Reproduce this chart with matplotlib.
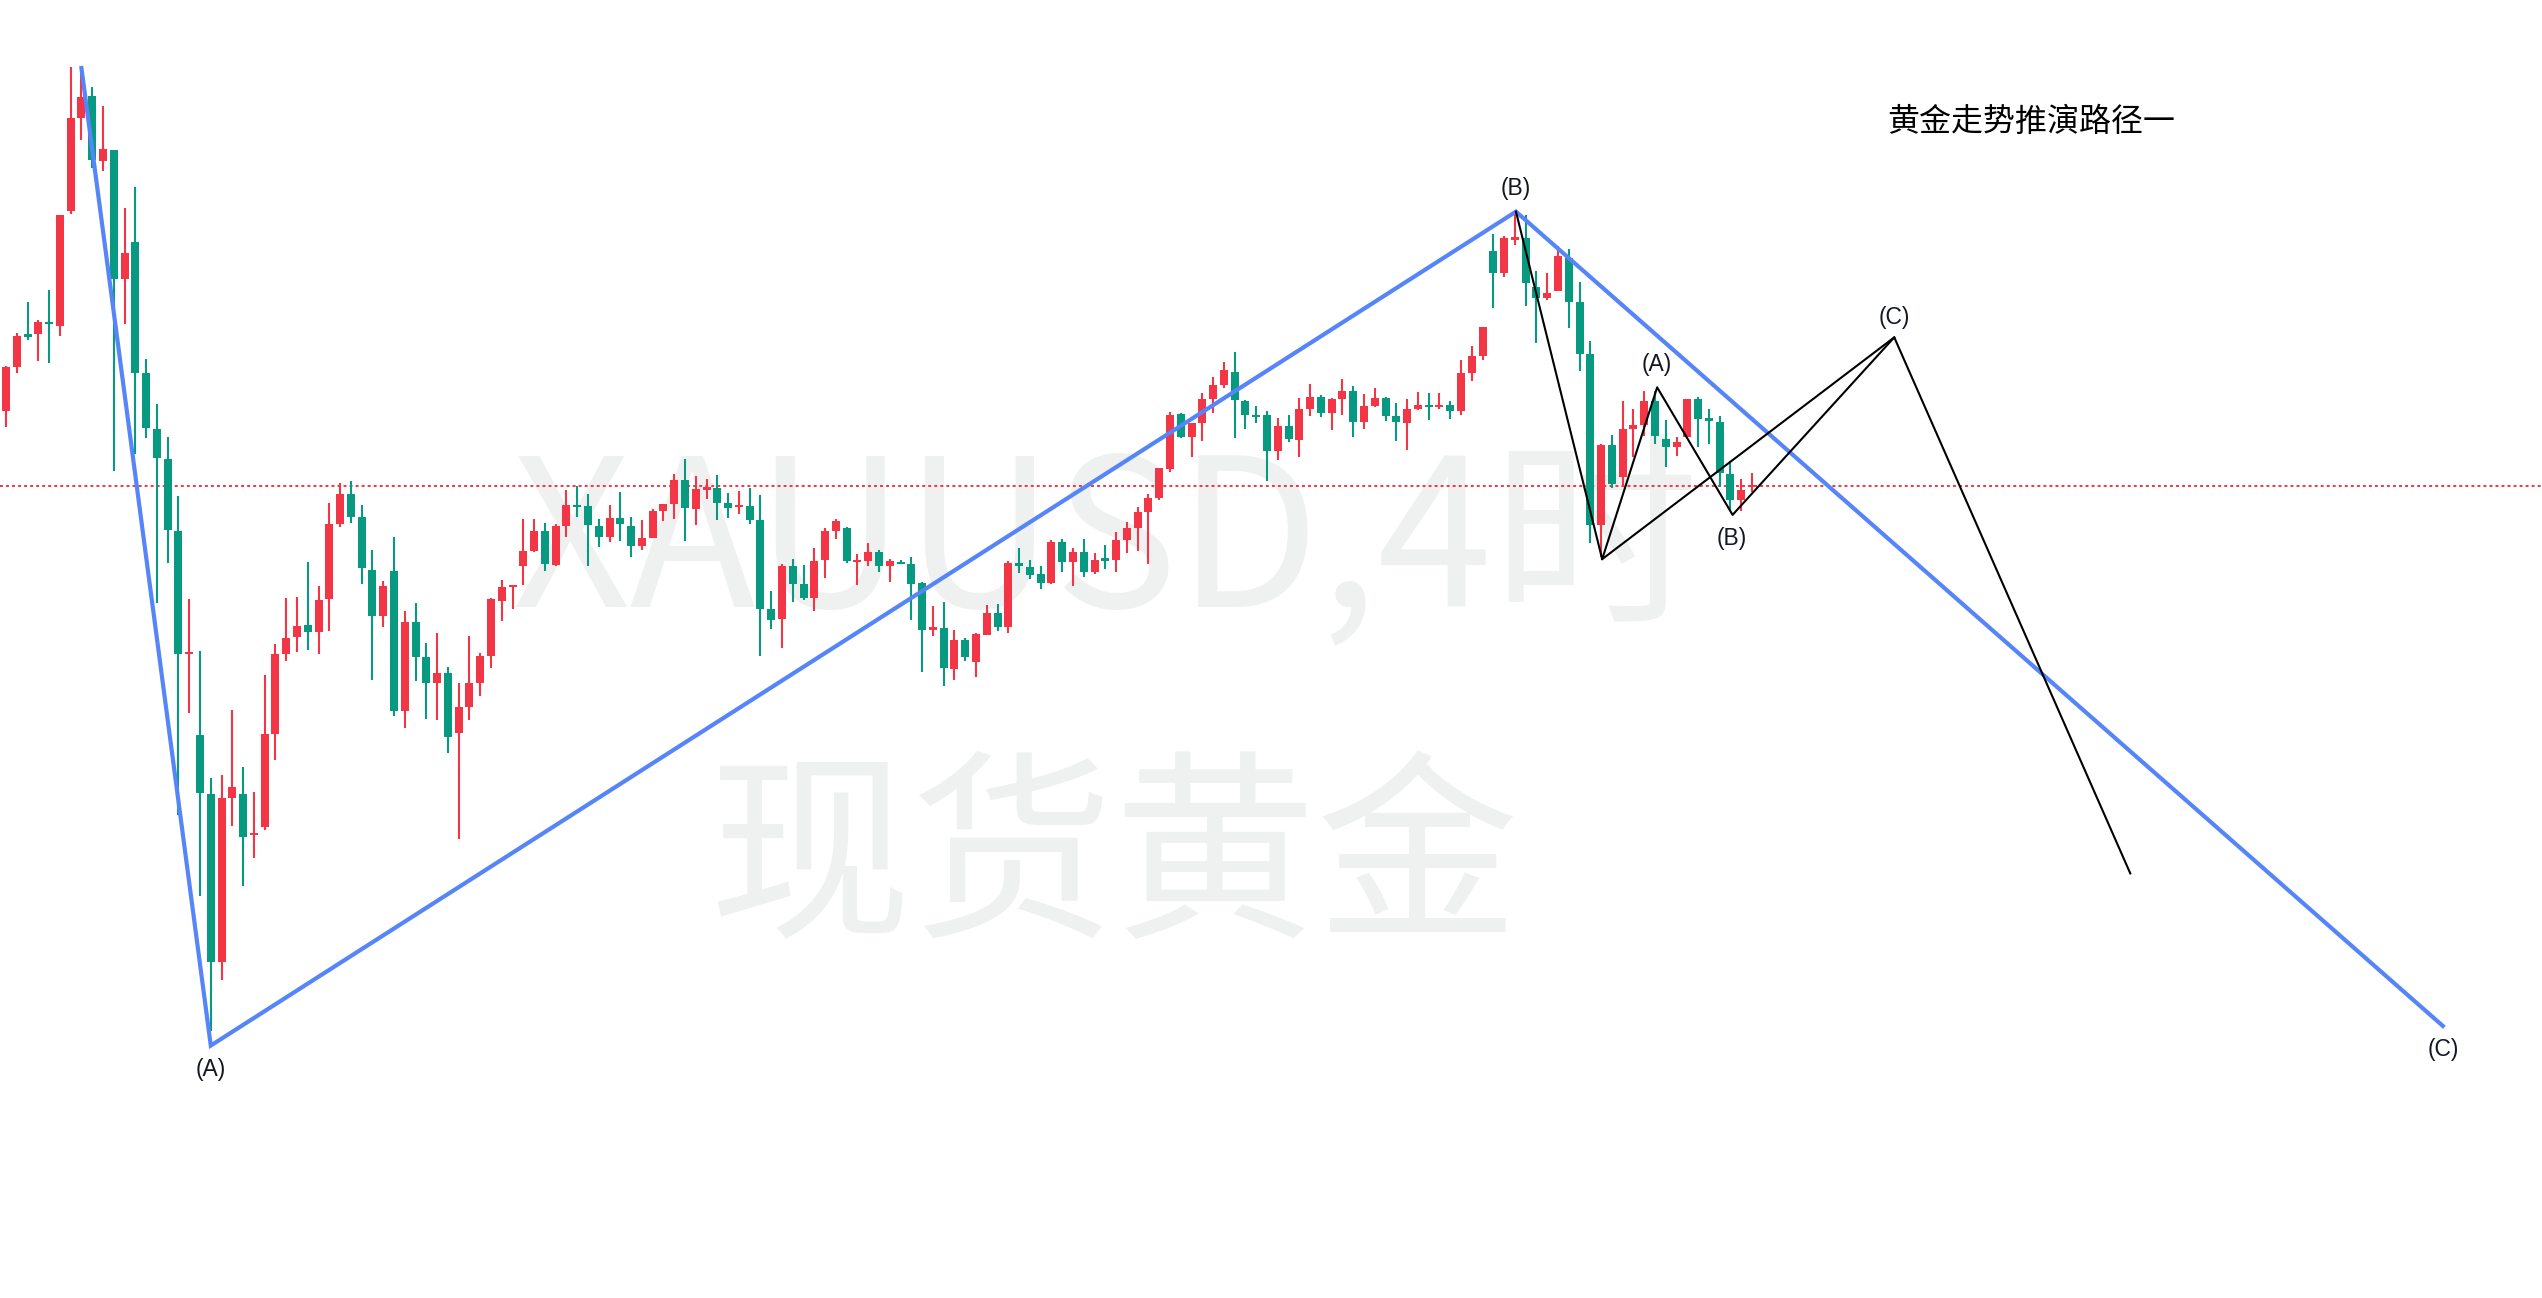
import numpy as np
import matplotlib
matplotlib.use("Agg")
import matplotlib.pyplot as plt

plt.rcParams['font.family'] = ['Noto Sans CJK SC', 'DejaVu Sans']

# ---------------- data (XAUUSD 4H, prices) ----------------
opens = [2693.6, 2705.9, 2715.2, 2715.2, 2718.5, 2717.6, 2749.7, 2775.7, 2781.9, 2763.7,
         2766.8, 2730.6, 2741.0, 2704.3, 2688.6, 2680.2, 2660.1, 2625.6, 2603.0, 2586.4,
         2539.4, 2585.3, 2586.4, 2575.0, 2577.3, 2603.2, 2625.6, 2630.5, 2633.8, 2631.9,
         2641.1, 2662.0, 2670.4, 2664.0, 2649.2, 2636.4, 2648.9, 2609.8, 2634.7, 2624.9,
         2617.6, 2620.3, 2603.6, 2610.9, 2617.5, 2625.1, 2640.6, 2644.5, 2650.4, 2654.5,
         2660.1, 2650.6, 2661.5, 2667.4, 2667.1, 2661.5, 2658.5, 2663.7, 2661.5, 2656.0,
         2658.2, 2665.7, 2667.7, 2674.4, 2666.3, 2671.7, 2672.1, 2667.9, 2666.7, 2667.1,
         2663.2, 2638.2, 2635.5, 2650.4, 2645.3, 2641.4, 2652.0, 2660.2, 2660.9, 2651.3,
         2651.8, 2654.2, 2650.4, 2651.5, 2650.8, 2645.5, 2632.5, 2632.9, 2621.5, 2629.6,
         2623.5, 2631.0, 2637.1, 2633.3, 2650.8, 2650.0, 2648.0, 2645.6, 2657.0, 2651.5,
         2654.2, 2648.7, 2652.2, 2652.0, 2657.6, 2661.0, 2665.5, 2669.4, 2677.4, 2692.8,
         2686.4, 2690.3, 2697.0, 2701.0, 2704.6, 2696.5, 2692.4, 2692.6, 2682.5, 2689.5,
         2685.6, 2694.2, 2697.6, 2693.1, 2697.0, 2699.3, 2690.6, 2695.1, 2697.3, 2692.3,
         2690.3, 2694.2, 2695.2, 2694.8, 2695.4, 2693.7, 2704.3, 2709.1, 2738.5, 2732.4,
         2741.7, 2742.1, 2728.4, 2725.3, 2727.4, 2736.5, 2724.2, 2709.7, 2661.8, 2684.2,
         2675.3, 2688.6, 2689.8, 2696.5, 2685.8, 2683.7, 2686.5, 2697.0, 2691.4, 2690.6,
         2676.0, 2668.8, 2672.5]
highs = [2706.4, 2715.4, 2724.3, 2719.1, 2727.6, 2748.6, 2790.0, 2789.7, 2784.4, 2779.2,
         2766.8, 2750.5, 2756.4, 2708.2, 2695.6, 2686.4, 2669.9, 2641.0, 2626.5, 2590.9,
         2591.8, 2610.0, 2594.0, 2587.0, 2619.8, 2628.4, 2641.3, 2641.6, 2651.4, 2644.7,
         2667.9, 2673.5, 2674.1, 2667.4, 2654.8, 2646.1, 2658.4, 2637.7, 2640.0, 2628.7,
         2631.5, 2622.0, 2617.5, 2630.7, 2625.9, 2641.3, 2646.4, 2645.0, 2663.4, 2663.4,
         2662.3, 2662.0, 2671.6, 2672.7, 2670.4, 2663.4, 2667.4, 2671.0, 2664.0, 2663.2,
         2666.2, 2667.6, 2676.0, 2680.2, 2675.5, 2674.6, 2675.8, 2670.7, 2671.3, 2672.1,
         2670.2, 2643.3, 2650.8, 2652.2, 2650.6, 2655.3, 2660.9, 2663.4, 2661.2, 2653.6,
         2656.7, 2654.8, 2652.2, 2652.0, 2652.8, 2645.8, 2639.1, 2640.2, 2632.4, 2630.1,
         2631.5, 2639.4, 2639.6, 2651.7, 2655.3, 2652.0, 2650.3, 2657.6, 2657.8, 2655.3,
         2657.8, 2653.9, 2656.2, 2659.8, 2662.6, 2666.8, 2670.4, 2677.7, 2693.4, 2693.1,
         2690.3, 2698.7, 2703.2, 2707.4, 2710.2, 2696.8, 2695.1, 2693.7, 2691.7, 2692.6,
         2697.3, 2701.2, 2698.2, 2697.3, 2702.6, 2700.7, 2698.4, 2700.1, 2697.6, 2695.9,
         2697.0, 2699.0, 2698.7, 2698.7, 2696.5, 2708.0, 2711.9, 2717.2, 2743.2, 2742.7,
         2749.4, 2748.6, 2732.9, 2732.3, 2739.9, 2739.0, 2729.8, 2713.3, 2684.4, 2687.0,
         2696.5, 2694.2, 2699.3, 2699.3, 2691.2, 2686.5, 2697.0, 2697.6, 2694.2, 2692.3,
         2679.8, 2674.6, 2676.3]
lows = [2689.1, 2704.4, 2713.5, 2707.7, 2707.0, 2714.8, 2748.8, 2769.6, 2761.8, 2761.0,
        2676.9, 2718.0, 2681.6, 2686.1, 2639.8, 2651.2, 2580.6, 2609.2, 2557.9, 2520.0,
        2534.5, 2577.5, 2560.7, 2568.5, 2576.5, 2596.0, 2623.8, 2626.2, 2626.8, 2625.7,
        2632.2, 2661.3, 2662.4, 2645.3, 2618.4, 2633.3, 2608.4, 2605.0, 2618.2, 2607.5,
        2607.2, 2598.0, 2573.9, 2607.2, 2614.0, 2621.8, 2635.0, 2638.3, 2645.0, 2654.2,
        2649.0, 2650.4, 2658.5, 2664.1, 2650.4, 2655.7, 2657.1, 2657.4, 2652.9, 2654.8,
        2658.0, 2663.0, 2663.5, 2657.4, 2661.8, 2669.1, 2663.2, 2663.8, 2664.9, 2662.1,
        2625.2, 2632.7, 2627.4, 2640.3, 2640.8, 2637.8, 2647.0, 2657.9, 2651.2, 2645.0,
        2650.4, 2648.7, 2645.9, 2650.9, 2635.2, 2620.7, 2630.8, 2616.8, 2618.4, 2623.8,
        2619.3, 2631.0, 2632.2, 2631.6, 2648.4, 2646.7, 2643.9, 2645.3, 2648.7, 2644.8,
        2647.3, 2648.1, 2649.5, 2648.7, 2654.0, 2654.6, 2650.9, 2668.8, 2676.6, 2686.1,
        2680.8, 2685.3, 2693.1, 2700.1, 2686.1, 2688.6, 2690.3, 2674.1, 2680.0, 2685.0,
        2680.8, 2692.3, 2692.0, 2688.4, 2692.6, 2686.4, 2688.6, 2694.8, 2690.9, 2685.3,
        2682.8, 2694.0, 2691.2, 2694.2, 2691.4, 2692.6, 2702.1, 2708.0, 2722.6, 2731.3,
        2740.2, 2723.2, 2712.8, 2724.8, 2727.4, 2717.0, 2705.0, 2656.8, 2652.9, 2672.2,
        2672.5, 2680.9, 2686.8, 2684.5, 2678.1, 2681.2, 2686.5, 2683.7, 2684.5, 2672.5,
        2666.0, 2665.8, 2671.1]
closes = [2705.9, 2714.8, 2714.5, 2718.6, 2718.0, 2748.6, 2775.7, 2781.6, 2764.0, 2767.0,
          2730.6, 2737.9, 2704.3, 2688.9, 2680.4, 2660.5, 2625.6, 2626.2, 2586.7, 2539.4,
          2585.3, 2588.4, 2574.4, 2575.5, 2603.2, 2625.6, 2630.1, 2633.6, 2631.9, 2640.8,
          2662.0, 2670.4, 2664.1, 2649.8, 2636.4, 2644.7, 2609.8, 2634.7, 2624.9, 2617.6,
          2620.3, 2602.5, 2610.9, 2617.5, 2625.1, 2641.0, 2644.4, 2644.9, 2654.5, 2660.1,
          2650.9, 2661.5, 2667.4, 2666.9, 2661.8, 2658.5, 2663.7, 2662.1, 2656.0, 2658.1,
          2665.7, 2667.6, 2674.4, 2666.6, 2671.8, 2672.1, 2668.0, 2666.6, 2667.1, 2663.2,
          2638.3, 2635.2, 2650.4, 2645.3, 2641.2, 2651.7, 2660.1, 2662.9, 2651.8, 2651.7,
          2654.2, 2650.4, 2651.7, 2650.9, 2645.3, 2632.4, 2632.9, 2621.8, 2629.6, 2624.9,
          2631.2, 2637.1, 2633.3, 2651.2, 2650.4, 2647.8, 2645.6, 2657.0, 2651.5, 2654.2,
          2648.7, 2652.0, 2651.8, 2657.6, 2660.9, 2665.4, 2669.3, 2677.7, 2692.6, 2686.4,
          2690.3, 2697.0, 2701.0, 2705.2, 2696.8, 2692.6, 2692.1, 2682.5, 2689.5, 2685.8,
          2694.2, 2697.6, 2693.1, 2697.0, 2699.3, 2690.6, 2695.1, 2697.3, 2692.3, 2690.6,
          2694.2, 2695.4, 2694.9, 2695.4, 2693.7, 2704.3, 2709.1, 2717.2, 2732.4, 2742.1,
          2742.1, 2729.6, 2725.3, 2726.7, 2737.1, 2724.3, 2709.7, 2661.8, 2684.2, 2673.2,
          2688.6, 2689.8, 2696.5, 2686.8, 2683.7, 2685.1, 2697.0, 2691.5, 2691.0, 2676.4,
          2668.8, 2671.6, 2673.0]

last_price = 2672.8

# Elliott-wave drawing points (bar index, price)
big_wave_x = [7.0, 19.0, 140.1, 226.1]
big_wave_y = [2789.7, 2516.0, 2749.5, 2521.5]
big_labels = ["(A)", "(B)", "(C)"]
big_label_x = [19.0, 140.1, 226.1]
big_label_y = [2509.2, 2756.1, 2515.0]

small_wave_x = [140.1, 148.1, 153.2, 160.2, 175.2, 197.1]
small_wave_y = [2749.5, 2652.2, 2700.3, 2664.6, 2714.3, 2564.2]
alt_wave_x = [148.1, 175.2]
alt_wave_y = [2652.2, 2714.3]
small_labels = ["(A)", "(B)", "(C)"]
small_label_x = [153.2, 160.1, 175.2]
small_label_y = [2706.6, 2658.0, 2719.9]

title_text = "黄金走势推演路径一"
watermark_1 = "XAUUSD,4时"
watermark_2 = "现货黄金"

# ---------------- figure ----------------
UP = "#F23645"
DOWN = "#089981"
BLUE = "#5585F8"

fig = plt.figure(figsize=(25.42, 12.98), dpi=100)
ax = fig.add_axes([0, 0, 1, 1])
ax.set_xlim(-0.557, 235.3)
ax.set_ylim(2445.32, 2808.76)
ax.axis("off")

# watermarks
ax.text(0.435, 0.532, watermark_1, transform=ax.transAxes, ha="center", va="baseline",
        fontsize=149, color="#eff0f0", zorder=0,
        family=["Noto Sans CJK SC", "DejaVu Sans"])
ax.text(0.438, 0.334, watermark_2, transform=ax.transAxes, ha="center", va="center",
        fontsize=146, color="#eff0f0", zorder=0,
        family=["Noto Sans CJK SC", "DejaVu Sans"])

o = np.array(opens); h = np.array(highs); l = np.array(lows); c = np.array(closes)
x = np.arange(len(o))
colors = np.where(c >= o, UP, DOWN)

ax.vlines(x, l, h, colors=colors, linewidth=1.5, zorder=2)
bottom = np.minimum(o, c)
height = np.maximum(np.abs(c - o), 0.6)
ax.bar(x, height, bottom=bottom, width=0.74, color=colors, linewidth=0, zorder=3)

# last price line
ax.axhline(last_price, color=UP, linewidth=1.4, linestyle=(0, (1.5, 1.6)), zorder=1)

# big wave (blue)
ax.plot(big_wave_x, big_wave_y, color=BLUE, linewidth=3.0, solid_joinstyle="miter",
        zorder=5)
# small wave (black)
ax.plot(small_wave_x, small_wave_y, color="black", linewidth=1.5, zorder=6)
ax.plot(alt_wave_x, alt_wave_y, color="black", linewidth=1.5, zorder=6)

lab_font = ["Liberation Sans", "DejaVu Sans"]
for t, xx, yy in zip(big_labels, big_label_x, big_label_y):
    ax.text(xx, yy, t, ha="center", va="center", fontsize=16.5, color="#131722",
            family=lab_font, zorder=7)
for t, xx, yy in zip(small_labels, small_label_x, small_label_y):
    ax.text(xx, yy, t, ha="center", va="center", fontsize=16.5, color="#131722",
            family=lab_font, zorder=7)

ax.text(0.799, 0.906, title_text, transform=ax.transAxes, ha="center", va="center",
        fontsize=23, color="black", family=["Noto Sans CJK SC", "DejaVu Sans"], zorder=7)

fig.savefig("out.png", dpi=100, facecolor="white")
